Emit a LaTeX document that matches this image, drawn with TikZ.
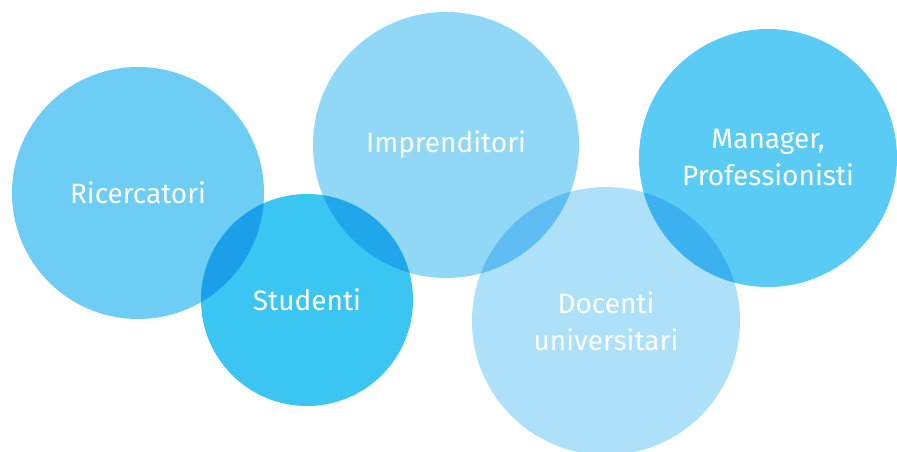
\documentclass[tikz,border=0pt]{standalone}
\usepackage{fontspec}
\setsansfont{Fira Sans}
\usepackage{tikz}
\definecolor{ricblue}{RGB}{109,205,244}
\definecolor{stublue}{RGB}{59,197,242}
\definecolor{impblue}{RGB}{144,216,246}
\definecolor{docblue}{RGB}{173,225,250}
\definecolor{manblue}{RGB}{90,203,244}
\definecolor{ricstu}{RGB}{26,159,232}
\definecolor{stuimp}{RGB}{32,166,234}
\definecolor{impdoc}{RGB}{95,189,243}
\definecolor{mandoc}{RGB}{59,177,239}
\begin{document}
\begin{tikzpicture}[
    x=1pt, y=-1pt,
    bubble/.style=
        {circle,inner sep=0pt,text=white,align=center,
         font=\sffamily\fontsize{28}{37}\selectfont}]
    \clip (0,0) rectangle (897,451);
    \node [bubble, fill=ricblue, minimum size=252pt] (ric) at (138,193) {Ricercatori};
    \node [bubble, fill=stublue, minimum size=212pt] (stu) at (307,300) {Studenti};
    \node [bubble, fill=impblue, minimum size=266pt] (imp) at (446,145) {Imprenditori};
    \node [bubble, fill=docblue, minimum size=268pt] (doc) at (606,321) {Docenti\\universitari};
    \node [bubble, fill=manblue, minimum size=258pt] (man) at (768,158) {Manager,\\Professionisti};
    % overlaps
    \begin{scope}
        \clip (ric.center) circle (126pt);
        \fill [ricstu] (stu.center) circle (106pt);
    \end{scope}
    \begin{scope}
        \clip (imp.center) circle (133pt);
        \fill [stuimp] (stu.center) circle (106pt);
    \end{scope}
    \begin{scope}
        \clip (imp.center) circle (133pt);
        \fill [impdoc] (doc.center) circle (134pt);
    \end{scope}
    \begin{scope}
        \clip (man.center) circle (129pt);
        \fill [mandoc] (doc.center) circle (134pt);
    \end{scope}
\end{tikzpicture}
\end{document}
